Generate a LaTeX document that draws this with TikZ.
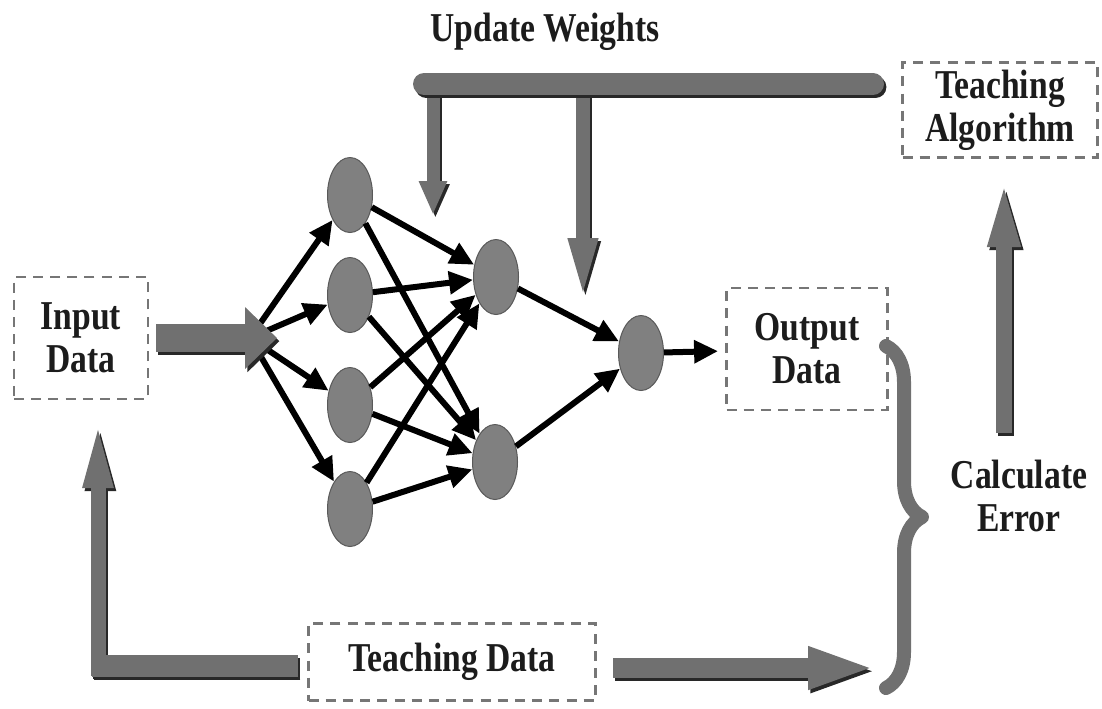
\documentclass[tikz,border=0pt]{standalone}
\usepackage{fontspec}
\setmainfont{Liberation Serif}[FakeStretch=0.82]
\usetikzlibrary{arrows.meta,shapes.geometric,decorations.pathreplacing,shadows,positioning}

\definecolor{boxGray}{RGB}{118,118,118}
\definecolor{pipeGray}{RGB}{112,112,112}
\definecolor{pipeDark}{RGB}{40,40,40}
\definecolor{textDark}{RGB}{28,28,28}
\definecolor{cellGray}{RGB}{128,128,128}
\definecolor{cellLight}{RGB}{158,158,158}

\tikzset{
  txt/.style={font=\fontsize{20.5}{21.5}\selectfont\bfseries, text=textDark, align=center},
  dashbox/.style={txt, draw=boxGray, line width=1.4pt, dash pattern=on 5pt off 3.6pt},
  neuron/.style={ellipse, minimum width=22.5pt, minimum height=37.5pt, inner sep=0pt,
    draw=black!65, line width=0.5pt,
    shading=axis, top color=cellGray, middle color=cellLight, bottom color=cellGray},
  link/.style={line width=3pt, -{Triangle[length=12pt,width=11pt]}},
  pipe/.style={draw=pipeGray, line width=#1},
  pipeshadow/.style={draw=pipeDark, line width=#1},
}

% fat grey arrow with a dark shadow under it
\newcommand{\fatarrow}[4][]{%
  \draw[pipeshadow=#2, #1] ([shift={(1.2pt,-1.6pt)}]#3) -- ([shift={(1.2pt,-1.6pt)}]#4);
  \draw[pipe=#2, #1] (#3) -- (#4);
}

\begin{document}
\begin{tikzpicture}[x=0.5pt, y=-0.5pt]
  \useasboundingbox (0,0) rectangle (1102,708);

  % boxes and captions
  \node[dashbox, minimum width=67pt, minimum height=61pt] (input) at (81,338) {Input\\Data};
  \node[dashbox, minimum width=80.5pt, minimum height=61pt] (output) at (807,349) {Output\\Data};
  \node[dashbox, minimum width=97.5pt, minimum height=47.5pt] (algo) at (1000,110) {Teaching\\Algorithm};
  \node[dashbox, minimum width=143.5pt, minimum height=38.5pt] (teach) at (452,662) {Teaching Data};
  \node[txt] (update) at (545,32) {Update Weights};
  \node[txt] (calc) at (1019,496) {Calculate\\Error};

  % the network
  \foreach \y [count=\i] in {195,295,405,509}
    \node[neuron] (a\i) at (350,\y) {};
  \node[neuron] (b1) at (496,277) {};
  \node[neuron] (b2) at (495,462) {};
  \node[neuron] (c) at (641,353) {};

  \coordinate (fork) at (250,338);
  \foreach \i in {1,...,4} {
    \draw[link] (fork) -- (a\i);
    \foreach \j in {1,2}
      \draw[link] (a\i) -- (b\j);
  }
  \foreach \j in {1,2}
    \draw[link] (b\j) -- (c);
  \draw[link, shorten >=3.5pt] (c) -- (output);

  % fat grey arrows
  \coordinate (in0) at (156,338);
  \fatarrow[-{Triangle[length=16pt,width=30pt]}]{14pt}{in0}{277,338}

  \coordinate (wl) at (424,84);
  \coordinate (wr) at (873,84);
  \coordinate (w1a) at (433,84);
  \coordinate (w1) at (433,215);
  \coordinate (w2a) at (583,84);
  \coordinate (w2) at (583,302);
  \fatarrow[-{Triangle[length=17pt,width=13pt]}]{6.5pt}{w1a}{w1}
  \fatarrow[-{Triangle[length=32pt,width=13pt]}]{7pt}{w2a}{w2}
  \fatarrow[line cap=round]{11pt}{wl}{wr}

  \coordinate (e1) at (1004,433);
  \coordinate (e2) at (1004,175);
  \fatarrow[-{Triangle[length=36pt,width=14pt]}]{8pt}{e1}{e2}

  \coordinate (t0) at (298,666);
  \coordinate (t1) at (92,666);
  \coordinate (t1a) at (98,676);
  \coordinate (t2) at (98,416);
  \fatarrow[-{Triangle[length=36pt,width=13pt]}]{7.5pt}{t1a}{t2}
  \fatarrow{11pt}{t0}{t1}

  \coordinate (t3a) at (613,668);
  \coordinate (t3) at (876,668);
  \fatarrow[-{Triangle[length=34pt,width=19pt]}]{10pt}{t3a}{t3}

  % brace joining output and teaching data
  \coordinate (brtop) at (886,346);
  \coordinate (brbot) at (886,688);
  \draw[draw=pipeGray, line width=7pt, line cap=round, line join=round,
    decorate, decoration={brace, amplitude=18pt}] (brtop) -- (brbot);
\end{tikzpicture}
\end{document}
